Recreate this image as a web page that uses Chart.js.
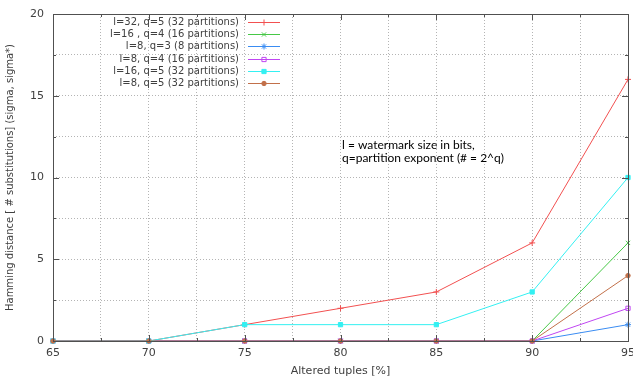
<!DOCTYPE html>
<html>
<head>
<meta charset="utf-8">
<script src="https://cdn.jsdelivr.net/npm/chart.js@4/dist/chart.umd.min.js"></script>
<style>
  html, body { margin: 0; padding: 0; background: #fff; }
  #wrap { width: 633px; height: 378px; overflow: hidden; }
</style>
</head>
<body>
<div id="wrap"><canvas id="chart" width="633" height="378"></canvas></div>
<script>
// datos
const alteredTuples = [65, 70, 75, 80, 85, 90, 95];
const l32q5 = [0, 0, 1, 2, 3, 6, 16];
const l16q4 = [0, 0, 0, 0, 0, 0, 6];
const l8q3 = [0, 0, 0, 0, 0, 0, 1];
const l8q4 = [0, 0, 0, 0, 0, 0, 2];
const l16q5 = [0, 0, 1, 1, 1, 3, 10];
const l8q5 = [0, 0, 0, 0, 0, 0, 4];

const seriesLabels = [
    'l=32, q=5 (32 partitions)',
    'l=16 , q=4 (16 partitions)',
    'l=8, q=3 (8 partitions)',
    'l=8, q=4 (16 partitions)',
    'l=16, q=5 (32 partitions)',
    'l=8, q=5 (32 partitions)'
];
const noteLines = ['l = watermark size in bits,', 'q=partition exponent (# = 2^q)'];

const seriesValues = [l32q5, l16q4, l8q3, l8q4, l16q5, l8q5];
const colors = ['#f25050', '#46c846', '#3a8cf2', '#c046f2', '#34f0f2', '#c2704a'];
const styles = [
    { pointStyle: 'cross', fill: false, r: 3 },
    { pointStyle: 'crossRot', fill: false, r: 3 },
    { pointStyle: 'star', fill: false, r: 3 },
    { pointStyle: 'rect', fill: false, r: 3 },
    { pointStyle: 'rect', fill: true, r: 3 },
    { pointStyle: 'circle', fill: true, r: 2.2 }
];

const textColor = '#404040';
const fontFamily = 'DejaVu Sans';

// marco, ticks internos, leyenda y nota dibujados a mano
const framePlugin = {
    id: 'frame',
    afterDraw(chart) {
        const ctx = chart.ctx;
        const a = chart.chartArea;
        const xs = chart.scales.x, ys = chart.scales.y;
        ctx.save();
        ctx.strokeStyle = '#505050';
        ctx.lineWidth = 1;
        // ticks hacia dentro
        ctx.beginPath();
        xs.ticks.forEach(t => {
            const x = Math.round(xs.getPixelForValue(t.value)) + 0.5;
            const len = t.value % 5 === 0 ? 6 : 3;
            ctx.moveTo(x, a.bottom); ctx.lineTo(x, a.bottom - len);
            ctx.moveTo(x, a.top); ctx.lineTo(x, a.top + len);
        });
        ys.ticks.forEach(t => {
            const y = Math.round(ys.getPixelForValue(t.value)) + 0.5;
            const len = t.value % 5 === 0 ? 6 : 3;
            ctx.moveTo(a.left, y); ctx.lineTo(a.left + len, y);
            ctx.moveTo(a.right, y); ctx.lineTo(a.right - len, y);
        });
        ctx.stroke();
        ctx.strokeRect(Math.round(a.left) + 0.5, Math.round(a.top) + 0.5,
            Math.round(a.right - a.left), Math.round(a.bottom - a.top));

        // leyenda
        ctx.font = '10px ' + fontFamily;
        ctx.textBaseline = 'middle';
        chart.data.datasets.forEach((ds, i) => {
            const y = Math.round(22 + i * 12.2) + 0.5;
            ctx.textAlign = 'right';
            ctx.fillStyle = textColor;
            ctx.fillText(ds.label, 239, y);
            ctx.strokeStyle = ds.borderColor;
            ctx.lineWidth = 1;
            ctx.beginPath();
            ctx.moveTo(248, y);
            ctx.lineTo(280, y);
            ctx.stroke();
            ctx.fillStyle = ds.pointBackgroundColor;
            Chart.helpers.drawPoint(ctx, {
                pointStyle: ds.pointStyle,
                radius: ds.pointRadius,
                rotation: 0,
                borderWidth: 1
            }, 264, y);
        });

        // nota
        ctx.font = '12px Lato';
        ctx.textAlign = 'left';
        ctx.fillStyle = '#000';
        noteLines.forEach((line, i) => ctx.fillText(line, 342, 145 + i * 13));
        ctx.restore();
    }
};

const datasets = seriesValues.map((vals, i) => ({
    label: seriesLabels[i],
    data: alteredTuples.map((x, j) => ({ x: x, y: vals[j] })),
    borderColor: colors[i],
    backgroundColor: colors[i],
    pointBackgroundColor: styles[i].fill ? colors[i] : 'rgba(0,0,0,0)',
    pointBorderColor: colors[i],
    pointStyle: styles[i].pointStyle,
    pointRadius: styles[i].r,
    pointBorderWidth: 1,
    borderWidth: 1,
    tension: 0,
    order: seriesValues.length - i
}));

new Chart(document.getElementById('chart'), {
    type: 'line',
    data: { datasets: datasets },
    options: {
        responsive: false,
        animation: false,
        clip: false,
        layout: { padding: { top: 14, right: 5, left: 0, bottom: 0 } },
        plugins: { legend: { display: false }, tooltip: { enabled: false } },
        scales: {
            x: {
                type: 'linear',
                min: 65, max: 95,
                border: { display: false, dash: [1, 2] },
                grid: { color: '#b4b4b4', drawTicks: false },
                ticks: {
                    stepSize: 2.5,
                    autoSkip: false,
                    maxRotation: 0,
                    padding: 6,
                    color: textColor,
                    font: { family: fontFamily, size: 11 },
                    callback: v => v % 5 === 0 ? v : ''
                },
                title: {
                    display: true,
                    text: 'Altered tuples [%]',
                    color: textColor,
                    font: { family: fontFamily, size: 11 },
                    padding: { top: 4, bottom: 0 }
                },
                afterFit: s => { s.height = 37; s.paddingLeft = 0; s.paddingRight = 0; }
            },
            y: {
                min: 0, max: 20,
                border: { display: false, dash: [1, 2] },
                grid: { color: '#b4b4b4', drawTicks: false },
                ticks: {
                    stepSize: 2.5,
                    autoSkip: false,
                    padding: 9,
                    color: textColor,
                    font: { family: fontFamily, size: 11 },
                    callback: v => v % 5 === 0 ? v : ''
                },
                title: {
                    display: true,
                    text: 'Hamming distance [ # substitutions] (sigma, sigma*)',
                    color: textColor,
                    font: { family: fontFamily, size: 10 },
                    padding: { top: 4, bottom: 0 }
                },
                afterFit: s => { s.width = 53; s.paddingTop = 0; s.paddingBottom = 0; }
            }
        }
    },
    plugins: [framePlugin]
});
</script>
</body>
</html>
